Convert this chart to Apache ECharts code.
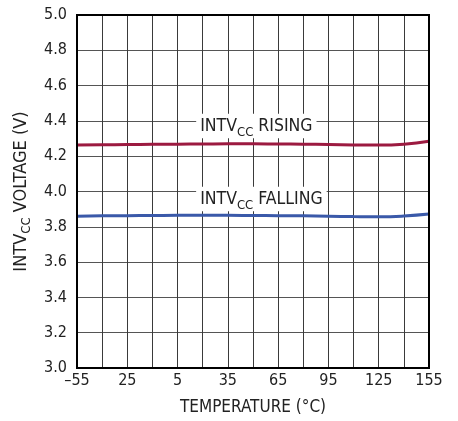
<!DOCTYPE html>
<html>
<head>
<meta charset="utf-8">
<script src="https://cdn.jsdelivr.net/npm/echarts@6/dist/echarts.min.js"></script>
<style>
html,body{margin:0;padding:0;background:#fff;}
#c{width:458px;height:421px;}
</style>
</head>
<body>
<div id="c"></div>
<script>
var temps = [-55, -40, -25, -10, 5, 20, 35, 50, 65, 80, 95, 110, 125, 140, 155];
var rising = [4.264, 4.265, 4.266, 4.267, 4.268, 4.269, 4.270, 4.270, 4.269, 4.268, 4.266, 4.264, 4.263, 4.268, 4.285];
var falling = [3.860, 3.862, 3.863, 3.864, 3.865, 3.865, 3.865, 3.864, 3.863, 3.862, 3.860, 3.858, 3.857, 3.861, 3.872];
var xTickValues = [-55, -25, 5, 35, 65, 95, 125, 155];
var xTickLabels = ['\u201355', '25', '5', '35', '65', '95', '125', '155'];
var risingLabelPos = [52, 4.371];
var fallingLabelPos = [55, 3.958];

var FONT = "'DejaVu Sans Condensed', 'Liberation Sans', sans-serif";
var TXT = '#222';

function pairs(xs, ys) { return xs.map(function (x, i) { return [x, ys[i]]; }); }

function richSub(main, sub, pad) {
  return {
    m: { fontFamily: FONT, fontSize: main, color: TXT, lineHeight: main, verticalAlign: 'top' },
    s: { fontFamily: FONT, fontSize: sub, color: TXT, lineHeight: sub, padding: [pad, 0, 0, 0], verticalAlign: 'top' }
  };
}

var chart = echarts.init(document.getElementById('c'), null, { renderer: 'canvas' });
chart.setOption({
  animation: false,
  backgroundColor: '#fff',
  grid: { left: 77, right: 29, top: 15, bottom: 53, show: true, borderColor: '#000', borderWidth: 2, backgroundColor: 'transparent', z: 5 },
  xAxis: {
    type: 'value', min: -55, max: 155, interval: 30,
    axisLine: { show: false }, axisTick: { show: false },
    axisLabel: {
      fontFamily: FONT, fontSize: 16, color: TXT, margin: 5,
      formatter: function (v) { var i = xTickValues.indexOf(v); return i >= 0 ? xTickLabels[i] : ''; }
    },
    splitLine: { show: true, lineStyle: { color: '#3a3a3a', width: 1 } },
    minorTick: { show: false, splitNumber: 2 },
    minorSplitLine: { show: true, lineStyle: { color: '#3a3a3a', width: 1 } },
    name: 'TEMPERATURE (\u00B0C)', nameLocation: 'middle', nameGap: 31,
    nameTextStyle: { fontFamily: FONT, fontSize: 17, color: TXT }
  },
  yAxis: {
    type: 'value', min: 3.0, max: 5.0, interval: 0.2,
    axisLine: { show: false }, axisTick: { show: false },
    axisLabel: { fontFamily: FONT, fontSize: 16, color: TXT, margin: 10, formatter: function (v) { return v.toFixed(1); } },
    splitLine: { show: true, lineStyle: { color: '#555', width: 1 } },
    name: '{m|INTV}{s|CC}{m| VOLTAGE (V)}', nameLocation: 'middle', nameGap: 38, nameRotate: 90,
    nameTextStyle: { rich: richSub(18, 13, 8) }
  },
  series: [
    {
      type: 'line', data: pairs(temps, rising), smooth: true, symbol: 'none',
      lineStyle: { color: '#9c1a40', width: 3 }, z: 3,
      markPoint: {
        symbol: 'rect', symbolSize: 1, itemStyle: { color: 'transparent' },
        data: [{ coord: risingLabelPos, label: { show: true, position: 'inside', formatter: '{m|INTV}{s|CC}{m| RISING}', backgroundColor: '#fff', padding: [4, 4, 3, 4], rich: richSub(17.5, 13, 8) } }]
      }
    },
    {
      type: 'line', data: pairs(temps, falling), smooth: true, symbol: 'none',
      lineStyle: { color: '#3a59a9', width: 3 }, z: 3,
      markPoint: {
        symbol: 'rect', symbolSize: 1, itemStyle: { color: 'transparent' },
        data: [{ coord: fallingLabelPos, label: { show: true, position: 'inside', formatter: '{m|INTV}{s|CC}{m| FALLING}', backgroundColor: '#fff', padding: [4, 4, 3, 4], rich: richSub(17.5, 13, 8) } }]
      }
    }
  ]
});
</script>
</body>
</html>
